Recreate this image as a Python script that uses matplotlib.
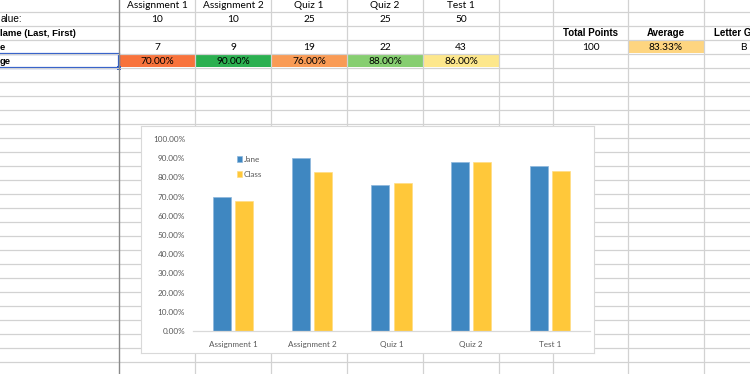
import matplotlib.pyplot as plt
import numpy as np
from matplotlib.ticker import FuncFormatter
from matplotlib.patches import Rectangle

# Spreadsheet values
categories = ['Assignment 1', 'Assignment 2', 'Quiz 1', 'Quiz 2', 'Test 1']
point_values = [10, 10, 25, 25, 50]
scores = [7, 9, 19, 22, 43]
jane = [0.70, 0.90, 0.76, 0.88, 0.86]
class_avg = [0.675, 0.83, 0.77, 0.88, 0.835]
total_points = 100
average = 0.8333
letter_grade = 'B'
row_labels = ['alue:', 'lame (Last, First)', 'e', 'ge']

W, H = 750, 374
cell_font = 'Lato'
head_font = ['Liberation Sans Narrow', 'Liberation Sans']
grid_col = '#D2D2D2'


def px_rect(x0, y0, x1, y1):
    # pixel box (top-left origin) -> figure coords
    return [x0 / W, 1 - y1 / H, (x1 - x0) / W, (y1 - y0) / H]


fig = plt.figure(figsize=(7.5, 3.74), dpi=100)

# --- the sheet itself ---
sheet = fig.add_axes([0, 0, 1, 1])
sheet.set_xlim(0, W)
sheet.set_ylim(H, 0)
sheet.axis('off')

col_edges = [119, 195, 271, 347, 423, 499, 553, 628, 704]
row_edges = np.arange(11.5, H, 14)

for y in row_edges:
    sheet.plot([0, W], [y, y], color=grid_col, lw=0.9)
for x in col_edges[1:]:
    sheet.plot([x, x], [0, H], color=grid_col, lw=0.9)

# conditional formatting fills
cell_fills = ['#F8733C', '#2BB050', '#F99B55', '#86CE70', '#FDE78C']
for i, v in enumerate(jane):
    x0, x1 = col_edges[i], col_edges[i + 1]
    sheet.add_patch(Rectangle((x0 + 0.5, row_edges[3]), x1 - x0 - 1, 13.5,
                              color=cell_fills[i], lw=0))
sheet.add_patch(Rectangle((628.5, row_edges[2]), 75, 13.5, color='#FED580', lw=0))

# frozen pane divider
sheet.plot([119, 119], [0, H], color='#8A8A8A', lw=1.0)


def base(r):
    # baseline of text sitting in row r (row 0 is the half-hidden header row)
    return row_edges[r] - 3.8


for i, c in enumerate(categories):
    xc = (col_edges[i] + col_edges[i + 1]) / 2
    sheet.text(xc, base(0), c, ha='center', va='baseline', fontsize=7.3, family=cell_font)
    sheet.text(xc, base(1), str(point_values[i]), ha='center', va='baseline', fontsize=7.3, family=cell_font)
    sheet.text(xc, base(3), str(scores[i]), ha='center', va='baseline', fontsize=7.3, family=cell_font)
    sheet.text(xc, base(4), f'{jane[i]:.2%}', ha='center', va='baseline', fontsize=7.3, family=cell_font)

for xc, txt in zip([590.5, 666, 743], ['Total Points', 'Average', 'Letter Grade']):
    sheet.text(xc, base(2), txt, ha='center', va='baseline', fontsize=7, family=head_font, weight='bold')
sheet.text(590.5, base(3), str(total_points), ha='center', va='baseline', fontsize=7.3, family=cell_font)
sheet.text(666, base(3), f'{average:.2%}', ha='center', va='baseline', fontsize=7.3, family=cell_font)
sheet.text(743, base(3), letter_grade, ha='center', va='baseline', fontsize=7.3, family=cell_font)

# cut-off row labels in column A (only their tails are on screen)
sheet.text(0.5, base(1), row_labels[0], ha='left', va='baseline', fontsize=7.2, family=head_font)
sheet.text(0.5, base(2), row_labels[1], ha='left', va='baseline', fontsize=6.8, family=head_font, weight='bold')
sheet.text(0, base(3), row_labels[2], ha='left', va='baseline', fontsize=6.8, family=head_font, weight='bold')
sheet.text(0, base(4), row_labels[3], ha='left', va='baseline', fontsize=6.8, family=head_font, weight='bold')

# selected cell
sheet.add_patch(Rectangle((-2, row_edges[3]), 121, row_edges[4] - row_edges[3],
                          fill=False, edgecolor='#2455C9', lw=1.6))
sheet.add_patch(Rectangle((117, row_edges[4] - 2), 4, 4, color='#2455C9', lw=0))

# --- embedded chart ---
box = fig.add_axes(px_rect(141, 126, 594, 353))
box.set_xticks([])
box.set_yticks([])
box.set_facecolor('white')
for s in box.spines.values():
    s.set_color('#D9D9D9')
    s.set_linewidth(0.8)

ax = fig.add_axes(px_rect(193.4, 139, 589.6, 331))
ax.set_facecolor('none')
x = np.arange(len(categories))
w = 0.227
b1 = ax.bar(x - 0.141, jane, w, color='#3F87C1', edgecolor='#8DB7DD', lw=0.5, label='Jane')
b2 = ax.bar(x + 0.141, class_avg, w, color='#FFC83A', edgecolor='#FFDD85', lw=0.5, label='Class')
ax.set_xlim(-0.5, 4.5)
ax.set_ylim(0, 1.0)
ax.set_yticks(np.arange(0, 1.01, 0.1))
ax.yaxis.set_major_formatter(FuncFormatter(lambda v, p: f'{v:.2%}'))
ax.set_xticks(x)
ax.set_xticklabels(categories)
for s in ['top', 'right', 'left']:
    ax.spines[s].set_visible(False)
ax.spines['bottom'].set_color('#D9D9D9')
ax.spines['bottom'].set_linewidth(0.9)
ax.tick_params(length=0, labelsize=5.9, labelcolor='#595959')
ax.tick_params(axis='y', pad=6)
ax.tick_params(axis='x', pad=7.5)
for t in ax.get_xticklabels() + ax.get_yticklabels():
    t.set_family(cell_font)

leg = ax.legend(loc='upper left', bbox_to_anchor=((232.5 - 193.4) / 396.2, (331 - 152) / 192),
                frameon=False, handlelength=0.65, handleheight=0.75,
                handletextpad=0.2, labelspacing=0.95, borderpad=0, prop={'family': cell_font, 'size': 5.9})
for t in leg.get_texts():
    t.set_color('#595959')

fig.savefig('out.png', dpi=100)
